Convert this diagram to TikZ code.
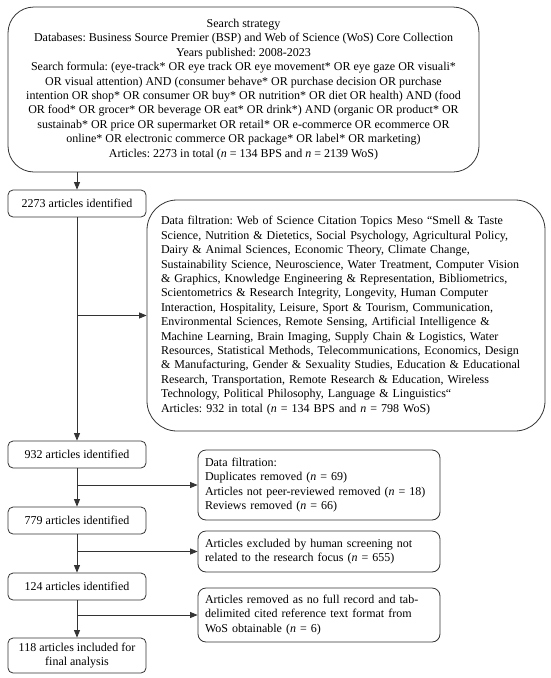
\documentclass[tikz,border=0pt]{standalone}
\usepackage{fontspec}
\setmainfont{Liberation Serif}
\usetikzlibrary{arrows.meta}
\frenchspacing
\begin{document}
\begin{tikzpicture}[x=1pt,y=-1pt,
  font=\fontsize{12}{14.4}\selectfont,
  every node/.style={inner sep=0pt,draw=black!80,line width=0.8pt},
  stagebox/.style={rounded corners=5pt,minimum width=138pt,align=center},
  notebox/.style={rounded corners=8pt,minimum width=242pt,text width=228pt,align=left},
  flow/.style={draw=black!80,line width=0.8pt,-{Triangle[length=7.5pt,width=6pt]}}]
\useasboundingbox (0,0) rectangle (550,678);
\node[rounded corners=26pt,minimum width=471pt,minimum height=165pt,align=center] (search) at (243.5,89.5)
{Search strategy\\
Databases: Business Source Premier (BSP) and Web of Science (WoS) Core Collection\\
Years published: 2008-2023\\
Search formula: (eye-track* OR eye track OR eye movement* OR eye gaze OR visuali*\\
OR visual attention) AND (consumer behave* OR purchase decision OR purchase\\
intention OR shop* OR consumer OR buy* OR nutrition* OR diet OR health) AND (food\\
OR food* OR grocer* OR beverage OR eat* OR drink*) AND (organic OR product* OR\\
sustainab* OR price OR supermarket OR retail* OR e-commerce OR ecommerce OR\\
online* OR electronic commerce OR package* OR label* OR marketing)\\
Articles: 2273 in total (\textit{n} = 134 BPS and \textit{n} = 2139 WoS)};
\node[stagebox,minimum height=27pt] (id2273) at (77,203.5) {2273 articles identified};
\node[rounded corners=30pt,minimum width=398pt,minimum height=231pt,text width=370pt,align=left] (filtmeso) at (346,315.5)
{Data filtration: Web of Science Citation Topics Meso “Smell \& Taste\\
Science, Nutrition \& Dietetics, Social Psychology, Agricultural Policy,\\
Dairy \& Animal Sciences, Economic Theory, Climate Change,\\
Sustainability Science, Neuroscience, Water Treatment, Computer Vision\\
\& Graphics, Knowledge Engineering \& Representation, Bibliometrics,\\
Scientometrics \& Research Integrity, Longevity, Human Computer\\
Interaction, Hospitality, Leisure, Sport \& Tourism, Communication,\\
Environmental Sciences, Remote Sensing, Artificial Intelligence \&\\
Machine Learning, Brain Imaging, Supply Chain \& Logistics, Water\\
Resources, Statistical Methods, Telecommunications, Economics, Design\\
\& Manufacturing, Gender \& Sexuality Studies, Education \& Educational\\
Research, Transportation, Remote Research \& Education, Wireless\\
Technology, Political Philosophy, Language \& Linguistics“\\
Articles: 932 in total (\textit{n} = 134 BPS and \textit{n} = 798 WoS)};
\node[stagebox,minimum height=27pt] (id932) at (77,454.5) {932 articles identified};
\node[notebox,minimum height=70pt] (filtdup) at (319,485)
{Data filtration:\\
Duplicates removed (\textit{n} = 69)\\
Articles not peer-reviewed removed (\textit{n} = 18)\\
Reviews removed (\textit{n} = 66)};
\node[stagebox,minimum height=27pt] (id779) at (77,520.5) {779 articles identified};
\node[notebox,minimum height=41pt] (screen) at (319,551.5)
{Articles excluded by human screening not\\
related to the research focus (\textit{n} = 655)};
\node[stagebox,minimum height=27pt] (id124) at (77,586.5) {124 articles identified};
\node[notebox,minimum height=54pt] (filtwos) at (319,615)
{Articles removed as no full record and tab-\\
delimited cited reference text format from\\
WoS obtainable (\textit{n} = 6)};
\node[stagebox,minimum height=35pt] (final) at (77,655.5) {118 articles included for\\final analysis};
% main flow
\draw[flow] (search.south -| id2273.north) -- (id2273.north);
\draw[flow] (id2273) -- (id932);
\draw[flow] (id932) -- (id779);
\draw[flow] (id779) -- (id124);
\draw[flow] (id124) -- (final);
% exclusions
\draw[flow] (id2273 |- filtmeso.west) -- (filtmeso.west);
\draw[flow] (id932 |- filtdup.west) -- (filtdup.west);
\draw[flow] (id779 |- screen.west) -- (screen.west);
\draw[flow] (id124 |- filtwos.west) -- (filtwos.west);
\end{tikzpicture}
\end{document}
